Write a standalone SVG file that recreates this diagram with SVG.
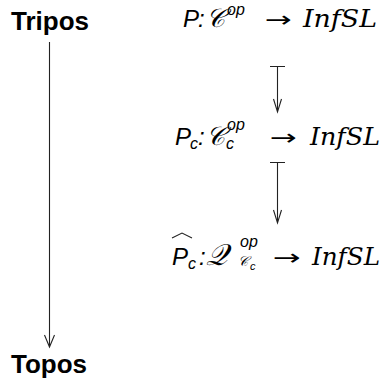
<svg xmlns="http://www.w3.org/2000/svg" width="388" height="378" viewBox="0 0 388 378">
<style>
.lbl{font-family:"Liberation Sans","DejaVu Sans",sans-serif;font-weight:bold;font-size:26px;fill:#000}
.si{font-family:"Liberation Sans","DejaVu Sans",sans-serif;font-style:italic;fill:#000}
.cal{font-family:"DejaVu Serif","Liberation Serif",serif;font-style:italic;fill:#000}
.inf{font-family:"DejaVu Serif","Liberation Serif",serif;font-style:italic;font-size:24px;fill:#000}
.ar{font-family:"DejaVu Sans",sans-serif;font-size:22px;fill:#000}
.ln{fill:none;stroke:#222;stroke-width:1.1}
</style>
<rect width="388" height="378" fill="#fff"/>
<g id="tripos"><text class="lbl" x="11" y="30">Tripos</text></g>
<g id="topos"><text class="lbl" x="11" y="373">Topos</text></g>
<g id="functor-P">
<text class="si" x="183" y="27" font-size="24">P</text>
<text class="si" x="198" y="27" font-size="24">:</text>
<text class="cal" x="206" y="27" font-size="26">𝒞</text>
<text class="si" x="227" y="15" font-size="16">op</text>
<text class="ar" x="265" y="27" textLength="27" lengthAdjust="spacingAndGlyphs">→</text>
<text class="inf" x="303" y="27" textLength="74" lengthAdjust="spacingAndGlyphs">InfSL</text>
</g>
<g id="functor-Pc">
<text class="si" x="175" y="145" font-size="24">P</text>
<text class="si" x="190" y="149" font-size="16">c</text>
<text class="si" x="198" y="145" font-size="24">:</text>
<text class="cal" x="206" y="145" font-size="26">𝒞</text>
<text class="si" x="227" y="130" font-size="16">op</text>
<text class="si" x="226" y="149" font-size="16">c</text>
<text class="ar" x="270" y="145" textLength="27" lengthAdjust="spacingAndGlyphs">→</text>
<text class="inf" x="310" y="145" textLength="70" lengthAdjust="spacingAndGlyphs">InfSL</text>
</g>
<g id="functor-Pc-hat">
<text class="si" x="172" y="265" font-size="24">P</text>
<text class="si" x="188" y="269" font-size="16">c</text>
<path class="ln" d="M172,238 L182,233 L192,238"/>
<text class="si" x="199" y="265" font-size="24">:</text>
<text class="cal" x="206" y="265" font-size="30">𝒬</text>
<text class="si" x="240" y="247" font-size="16">op</text>
<text class="cal" x="238" y="266" font-size="14">𝒞</text>
<text class="si" x="250" y="270" font-size="11">c</text>
<text class="ar" x="273" y="265" textLength="28" lengthAdjust="spacingAndGlyphs">→</text>
<text class="inf" x="312" y="265" textLength="68" lengthAdjust="spacingAndGlyphs">InfSL</text>
</g>
<g id="connectors">
<path class="ln" d="M49.5,42 V347 M44.5,335 L49.5,347 L54.5,335"/>
<path class="ln" d="M270,66.5 H285 M277.5,66 V112 M273.5,99 L277.5,112 L281.5,99"/>
<path class="ln" d="M270,162.5 H285 M277.5,162 V223 M273.5,210 L277.5,223 L281.5,210"/>
</g>
</svg>
